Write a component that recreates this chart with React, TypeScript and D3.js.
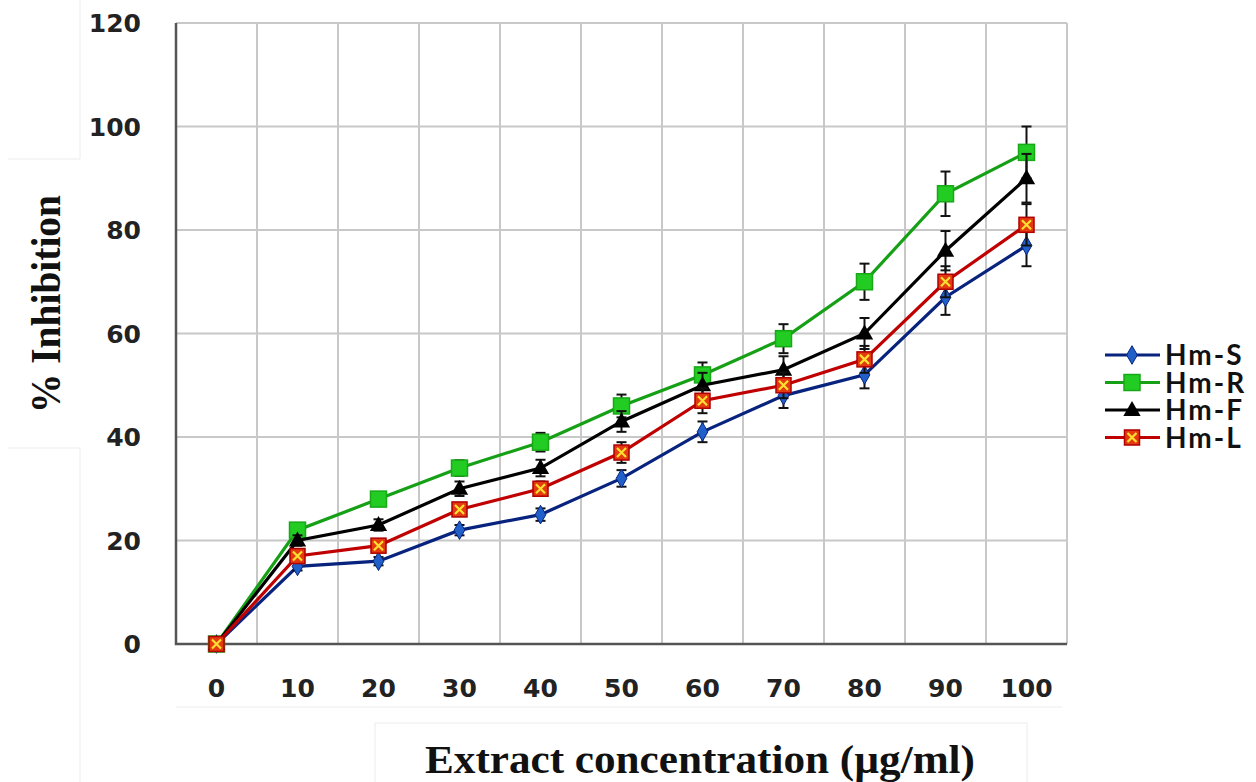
import React from 'react';
import { scaleBand, scaleLinear, line, symbol, symbolDiamond, symbolTriangle } from 'd3';

const concentrations = ['0', '10', '20', '30', '40', '50', '60', '70', '80', '90', '100'];
const yTicks = [0, 20, 40, 60, 80, 100, 120];

const hmS = [0, 15, 16, 22, 25, 32, 41, 48, 52, 67, 77];
const hmR = [0, 22, 28, 34, 39, 46, 52, 59, 70, 87, 95];
const hmF = [0, 20, 23, 30, 34, 43, 50, 53, 60, 76, 90];
const hmL = [0, 17, 19, 26, 30, 37, 47, 50, 55, 70, 81];

const errS = [0, 0.8, 0.8, 1, 1.2, 1.6, 2, 2.4, 2.6, 3.4, 4];
const errR = [0, 1, 1.2, 1.5, 1.8, 2.2, 2.4, 2.8, 3.5, 4.3, 5];
const errF = [0, 1, 1.1, 1.4, 1.6, 2, 2.4, 2.6, 3, 3.8, 4.7];
const errL = [0, 1, 1, 1.2, 1.4, 2, 2.4, 2.5, 2.6, 3, 4];

const series = [
  { name: 'Hm-S', values: hmS, errors: errS, line: '#08237e', marker: 'diamond' },
  { name: 'Hm-R', values: hmR, errors: errR, line: '#16a016', marker: 'square' },
  { name: 'Hm-F', values: hmF, errors: errF, line: '#000000', marker: 'triangle' },
  { name: 'Hm-L', values: hmL, errors: errL, line: '#c00000', marker: 'xsquare' },
];

const left = 176, right = 1067, top = 23, bottom = 644;

const Marker = ({ kind, x, y }: { kind: string; x: number; y: number }) => {
  if (kind === 'diamond') {
    return <path d={symbol(symbolDiamond, 100)() as string} transform={`translate(${x},${y})`} fill="#2060c8" stroke="#08237e" strokeWidth={1} />;
  }
  if (kind === 'triangle') {
    return <path d={symbol(symbolTriangle, 130)() as string} transform={`translate(${x},${y + 1})`} fill="#000" />;
  }
  if (kind === 'square') {
    return <rect x={x - 8} y={y - 8} width={16} height={16} fill="#22cc22" stroke="#18a818" strokeWidth={1.5} />;
  }
  return (
    <g transform={`translate(${x},${y})`}>
      <rect x={-7.5} y={-7.5} width={15} height={15} fill="#e33a10" stroke="#b00000" strokeWidth={1.5} />
      <path d="M-4.5,-4.5L4.5,4.5M4.5,-4.5L-4.5,4.5" stroke="#ffe030" strokeWidth={2.2} />
    </g>
  );
};

export default function App() {
  const x = scaleBand<string>().domain(concentrations).range([left, right]);
  const y = scaleLinear().domain([0, 120]).range([bottom, top]);
  const cx = (c: string) => (x(c) as number) + x.bandwidth() / 2;

  const path = line<number>()
    .x((_, i) => cx(concentrations[i]))
    .y((d) => y(d));

  const faint = '#ececec';

  return (
    <svg width={1256} height={782} style={{ position: 'absolute', left: 0, top: 0 }}>
      <rect width={1256} height={782} fill="#fff" />
      {/* faint pasted-box edges */}
      <path d="M8,159H80V0M8,448H80V782" fill="none" stroke={faint} strokeWidth={1} />
      <path d="M176,707H1062M375,782V723H1027V782" fill="none" stroke={faint} strokeWidth={1} />

      {/* grid */}
      {yTicks.filter((t) => t > 0).map((t) => (
        <line key={t} x1={left} x2={right} y1={y(t)} y2={y(t)} stroke="#c8c8c8" strokeWidth={2} />
      ))}
      {concentrations.map((c) => (
        <line key={c} x1={(x(c) as number) + x.bandwidth()} x2={(x(c) as number) + x.bandwidth()} y1={top} y2={bottom} stroke="#c8c8c8" strokeWidth={2} />
      ))}

      {/* axes */}
      <path d={`M${left},${top}V${bottom}H${right}`} fill="none" stroke="#555" strokeWidth={2.5} />

      {yTicks.map((t) => (
        <text key={t} x={141} y={y(t)} dy="0.36em" textAnchor="end" fontFamily="DejaVu Sans" fontWeight="bold" fontSize={25} fill="#222">{t}</text>
      ))}
      {concentrations.map((c) => (
        <text key={c} x={cx(c)} y={697} textAnchor="middle" fontFamily="DejaVu Sans" fontWeight="bold" fontSize={25} fill="#222">{c}</text>
      ))}

      {/* series */}
      {series.map((s) => (
        <g key={s.name}>
          <path d={path(s.values) as string} fill="none" stroke={s.line} strokeWidth={3.2} />
          {s.values.map((v, i) => s.errors[i] > 0 && (
            <g key={i} stroke="#111" strokeWidth={2}>
              <line x1={cx(concentrations[i])} x2={cx(concentrations[i])} y1={y(v - s.errors[i])} y2={y(v + s.errors[i])} />
              <line x1={cx(concentrations[i]) - 5} x2={cx(concentrations[i]) + 5} y1={y(v - s.errors[i])} y2={y(v - s.errors[i])} />
              <line x1={cx(concentrations[i]) - 5} x2={cx(concentrations[i]) + 5} y1={y(v + s.errors[i])} y2={y(v + s.errors[i])} />
            </g>
          ))}
          {s.values.map((v, i) => (
            <Marker key={i} kind={s.marker} x={cx(concentrations[i])} y={y(v)} />
          ))}
        </g>
      ))}

      {/* legend */}
      {series.map((s, i) => {
        const ly = 355 + i * 27.5;
        return (
          <g key={s.name}>
            <line x1={1105} x2={1160} y1={ly} y2={ly} stroke={s.line} strokeWidth={3} />
            <Marker kind={s.marker} x={1132} y={ly} />
            <text x={1165} y={ly} dy="0.36em" fontFamily="Lato" fontWeight="bold" fontSize={28} letterSpacing={2} fill="#111">{s.name}</text>
          </g>
        );
      })}

      {/* axis titles */}
      <text transform="translate(60,304) rotate(-90)" textAnchor="middle" fontFamily="Liberation Serif" fontWeight="bold" fontSize={42} textLength={218} lengthAdjust="spacingAndGlyphs" fill="#111">% Inhibition</text>
      <text x={700} y={773} textAnchor="middle" fontFamily="Liberation Serif" fontWeight="bold" fontSize={39} textLength={550} lengthAdjust="spacingAndGlyphs" fill="#111">Extract concentration (µg/ml)</text>
    </svg>
  );
}
